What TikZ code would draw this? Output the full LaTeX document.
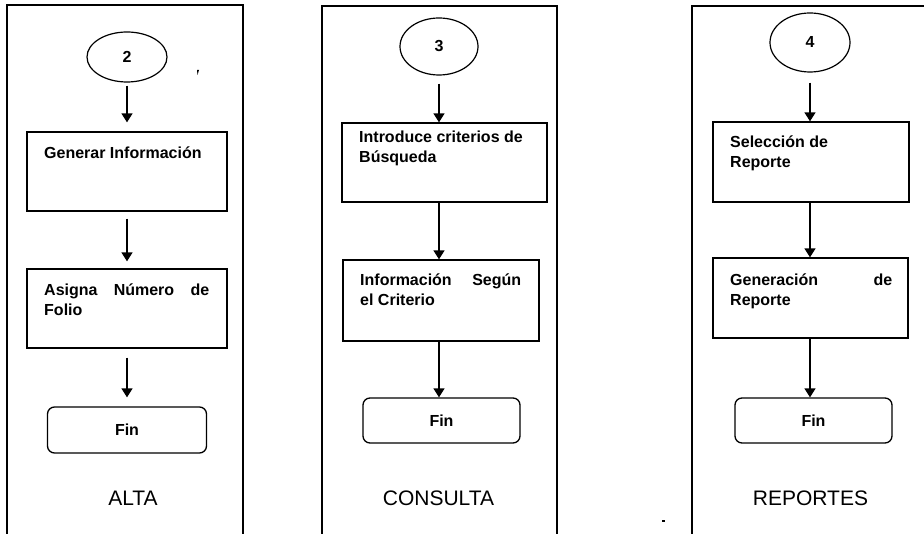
\documentclass[tikz,border=0pt]{standalone}
\usepackage{fontspec}
\setmainfont{Liberation Sans}
\usetikzlibrary{arrows.meta,shapes.geometric}
\begin{document}
\begin{tikzpicture}[x=1pt,y=-1pt,
  lane/.style={line width=1.4pt},
  conn/.style={line width=1.4pt,-{Triangle[length=9pt,width=11pt]}},
  startnode/.style={ellipse,draw,line width=1.2pt,inner sep=0pt,
    font=\fontsize{16}{20}\selectfont\bfseries},
  procbox/.style={rectangle,draw,line width=1.3pt,inner sep=0pt},
  endbox/.style={rectangle,rounded corners=7pt,draw,line width=1.3pt,inner sep=0pt,
    font=\fontsize{16}{20}\selectfont\bfseries},
  boxtext/.style={anchor=north west,inner sep=0pt,align=justify,
    font=\fontsize{16}{20}\selectfont\bfseries},
  lanelabel/.style={font=\fontsize{21}{25}\selectfont}]
\useasboundingbox (0,0) rectangle (924,534);

% swimlane borders (open at the bottom)
\draw[lane] (7,534) -- (7,5) -- (243,5) -- (243,534);
\draw[lane] (322,534) -- (322,6) -- (557,6) -- (557,534);
\draw[lane] (692,534) -- (692,6) -- (924,6);

% ---------------- ALTA ----------------
\node[startnode,minimum width=80pt,minimum height=50pt] (s2) at (127,57) {2};
\node[procbox,minimum width=200pt,minimum height=79pt] (a1) at (127,171.5) {};
\node[boxtext,text width=165pt] (a1t) at (44,147) {Generar Información};
\node[procbox,minimum width=200pt,minimum height=79pt] (a2) at (127,308.5) {};
\node[boxtext,text width=165pt] (a2t) at (44,284) {Asigna Número de\linebreak Folio};
\node[endbox,minimum width=159pt,minimum height=46pt] (a3) at (127,430) {Fin};
\node[lanelabel] (la) at (133,498) {ALTA};

\draw[conn,shorten <=3pt,shorten >=9pt] (s2) -- (a1);
\draw[conn,shorten <=7pt,shorten >=7pt] (a1) -- (a2);
\draw[conn,shorten <=9pt,shorten >=9pt] (a2) -- (a3);

% ---------------- CONSULTA ----------------
\node[startnode,minimum width=78pt,minimum height=57pt] (s3) at (439,46.5) {3};
\node[procbox,minimum width=205pt,minimum height=79pt] (b1) at (444.5,162.5) {};
\node[boxtext,text width=170pt] (b1t) at (359,131) {Introduce criterios de\\ Búsqueda};
\node[procbox,minimum width=196pt,minimum height=81pt] (b2) at (441,300.5) {};
\node[boxtext,text width=161pt] (b2t) at (360,274) {Información Según\linebreak el Criterio};
\node[endbox,minimum width=157pt,minimum height=45pt] (b3) at (441.5,420.5) {Fin};
\node[lanelabel] (lb) at (438.5,498) {CONSULTA};

\draw[conn,shorten <=8pt] (s3) -- (s3 |- b1.north);
\draw[conn] (b1.south -| s3) -- (b2.north -| s3);
\draw[conn] (b2.south -| s3) -- (b3.north -| s3);

% ---------------- REPORTES ----------------
\node[startnode,minimum width=80pt,minimum height=59pt] (s4) at (810,42.5) {4};
\node[procbox,minimum width=196pt,minimum height=80pt] (c1) at (811,162) {};
\node[boxtext,text width=162pt] (c1t) at (730,136) {Selección de\\ Reporte};
\node[procbox,minimum width=195pt,minimum height=80pt] (c2) at (810.5,298) {};
\node[boxtext,text width=162pt] (c2t) at (730,274) {Generación de\linebreak Reporte};
\node[endbox,minimum width=157pt,minimum height=45pt] (c3) at (813.5,420.5) {Fin};
\node[lanelabel] (lc) at (810.5,498) {REPORTES};

\draw[conn,shorten <=10pt] (s4) -- (s4 |- c1.north);
\draw[conn] (c1.south -| s4) -- (c2.north -| s4);
\draw[conn] (c2.south -| s4) -- (c3.north -| s4);

% small specks on the sheet
\fill (197,70) -- (199,70) -- (197.5,75) -- cycle;
\fill (662,520) rectangle (665,522);
\end{tikzpicture}
\end{document}
